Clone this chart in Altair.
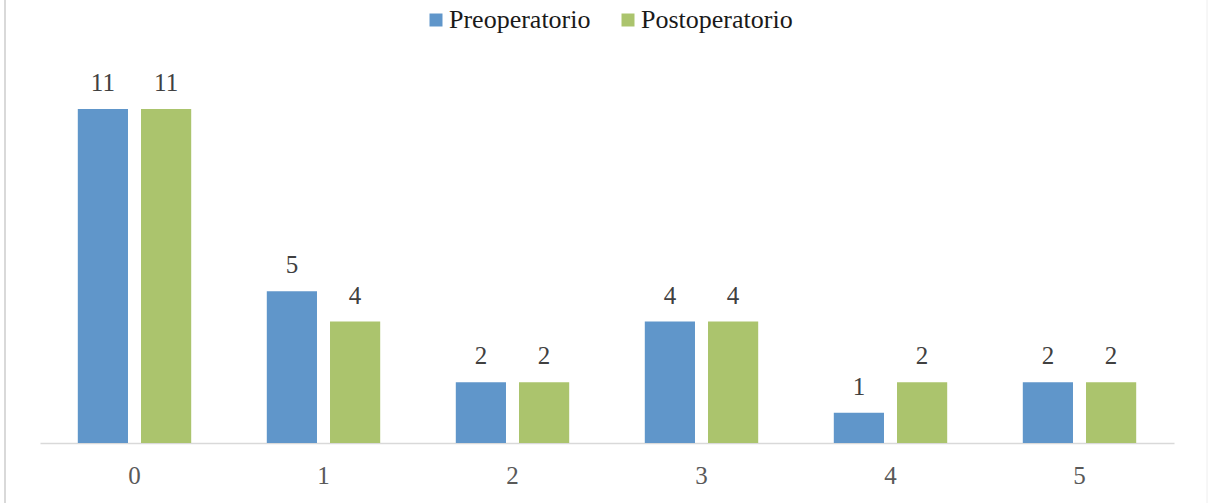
import altair as alt
import pandas as pd

categories = ["0", "1", "2", "3", "4", "5"]
series = ["Preoperatorio", "Postoperatorio"]
pre_values = [11, 5, 2, 4, 1, 2]
post_values = [11, 4, 2, 4, 2, 2]
colors = ["#6096CA", "#ABC46D"]

rows = []
for c, v in zip(categories, pre_values):
    rows.append({"cat": c, "serie": series[0], "val": v})
for c, v in zip(categories, post_values):
    rows.append({"cat": c, "serie": series[1], "val": v})
df = pd.DataFrame(rows)

FONT = "Liberation Serif"

x_enc = alt.X("cat:N", sort=categories, title=None,
              scale=alt.Scale(paddingInner=0.4, paddingOuter=0.2),
              axis=alt.Axis(labelAngle=0, ticks=False, domainColor="#d9d9d9",
                            domainWidth=1.5, labelFont=FONT, labelFontSize=25,
                            labelColor="#595959", labelPadding=20, grid=False))
xo_enc = alt.XOffset("serie:N", sort=series,
                     scale=alt.Scale(paddingInner=0.206, paddingOuter=0))
y_enc = alt.Y("val:Q", title=None, scale=alt.Scale(domain=[0, 11], nice=False),
              axis=None)

bars = alt.Chart(df).mark_bar(strokeWidth=0).encode(
    x=x_enc, xOffset=xo_enc, y=y_enc,
    color=alt.Color("serie:N", sort=series,
                    scale=alt.Scale(domain=series, range=colors),
                    legend=alt.Legend(title=None, orient="none", direction="horizontal",
                                      legendX=383, legendY=-102, columns=2,
                                      columnPadding=24, symbolType="square",
                                      symbolSize=169, symbolStrokeWidth=0,
                                      labelFont=FONT, labelFontSize=26,
                                      labelColor="#1a1a1a", labelOffset=0,
                                      padding=0)),
)

labels = alt.Chart(df).mark_text(font=FONT, fontSize=25, color="#404040",
                                 baseline="alphabetic", dy=-18).encode(
    x=alt.X("cat:N", sort=categories), xOffset=alt.XOffset("serie:N", sort=series),
    y=alt.Y("val:Q"), text=alt.Text("val:Q"),
)

frame = pd.DataFrame({"a": [0]})
left_border = alt.Chart(frame).mark_rule(color="#d9d9d9", strokeWidth=2).encode(
    x=alt.value(-35), y=alt.value(-109), y2=alt.value(394))
right_border = alt.Chart(frame).mark_rule(color="#eeeeee", strokeWidth=1).encode(
    x=alt.value(1167), y=alt.value(-109), y2=alt.value(394))

chart = alt.layer(bars, labels, left_border, right_border).properties(
    width=1134, height=334,
    background="white",
    autosize=alt.AutoSizeParams(type="none"),
    padding={"left": 40, "top": 109, "right": 35, "bottom": 60},
).configure_view(strokeWidth=0, stroke=None)

chart.save("out.html", embed_options={"renderer": "svg", "actions": False})
